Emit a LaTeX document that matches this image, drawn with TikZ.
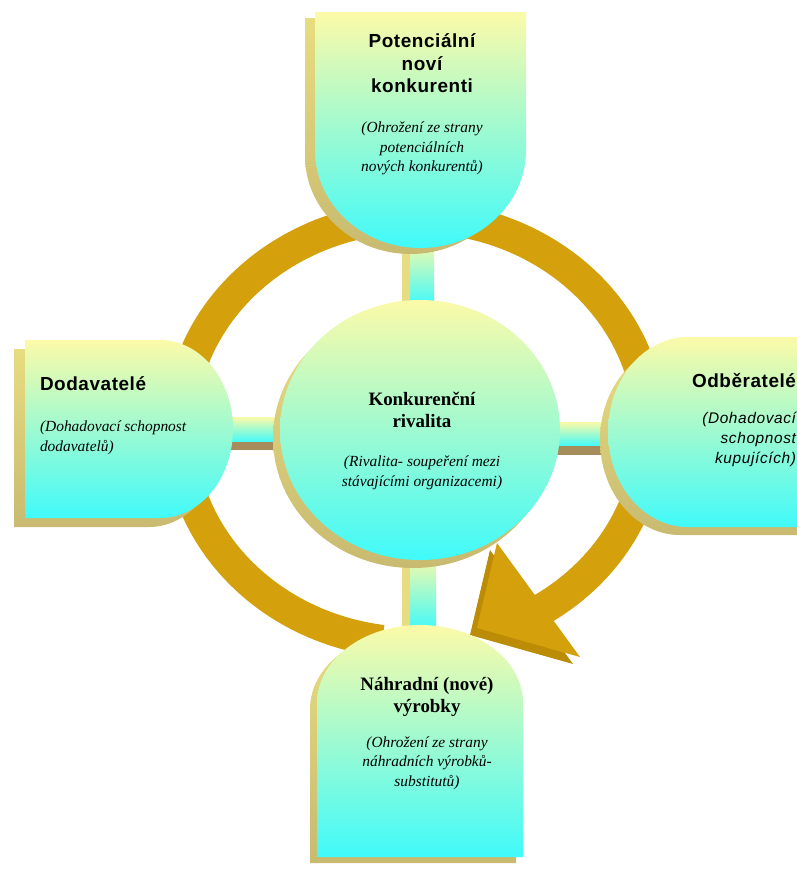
\documentclass[tikz,border=0pt]{standalone}
\usepackage{fontspec}
\setmainfont{Liberation Serif}
\newfontfamily\headsans[LetterSpace=3]{Liberation Sans}
\newfontfamily\notesans[LetterSpace=4]{Liberation Sans}
\usetikzlibrary{shapes.geometric,positioning,calc,backgrounds}
\definecolor{faceyellow}{RGB}{252,250,168}
\definecolor{facecyan}{RGB}{64,250,250}
\definecolor{sidelight}{RGB}{232,220,128}
\definecolor{sidedark}{RGB}{200,186,112}
\definecolor{stubbrown}{RGB}{165,140,90}
\definecolor{ringgold}{RGB}{212,160,12}
\definecolor{ringdark}{RGB}{188,140,6}
\tikzset{
	face/.style = {top color=faceyellow, bottom color=facecyan},
	side/.style = {top color=sidelight, bottom color=sidedark},
	hub/.style = {ellipse, outer sep=0pt, minimum width=280bp, minimum height=260bp},
	ring/.style = {draw=ringgold, line width=32bp},
	head/.style = {inner sep=0pt, outer sep=0pt, align=center, font=\bfseries\fontsize{19}{22.5}\selectfont},
	sanshead/.style = {head, font=\headsans\bfseries\fontsize{19}{22.5}\selectfont},
	note/.style = {inner sep=0pt, outer sep=0pt, align=center, font=\itshape\fontsize{15.5}{19.5}\selectfont},
	sansnote/.style = {note, font=\notesans\itshape\fontsize{15.5}{20}\selectfont}
}

\begin{document}
\begin{tikzpicture}[x=1bp, y=1bp]
	\useasboundingbox (0,0) rectangle (797,-870);
	\clip (0,0) rectangle (797,-870);

	\node[hub, side] (rivalry-shadow) at (413,-438) {};
	\node[hub, face] (rivalry) at (420,-430) {};

	\coordinate (entrants-foot) at (422,-240);
	\coordinate (suppliers-tip) at (230,-433);
	\coordinate (buyers-tip) at (607,-438);
	\coordinate (substitutes-head) at (422,-630);

	\begin{scope}[on background layer]
		\draw[ring] (415,-430) ++(262:235 and 213) arc[start angle=262, end angle=-60, x radius=235, y radius=213];
		\fill[ringdark] (490,-550) -- (470,-635) -- (573,-664) -- cycle;
		\fill[ringgold] (497,-543) -- (477,-628) -- (580,-657) -- cycle;

		\fill[sidelight] ($(entrants-foot)+(-20,0)$) rectangle ($(rivalry.north)+(-10,-5)$);
		\path[face] ($(entrants-foot)+(-12,0)$) rectangle ($(rivalry.north)+(14,-5)$);
		\fill[sidelight] ($(rivalry.south)+(-18,5)$) rectangle ($(substitutes-head)+(-12,0)$);
		\path[face] ($(rivalry.south)+(-10,5)$) rectangle ($(substitutes-head)+(14,0)$);
		\path[face] ($(suppliers-tip)+(0,16)$) rectangle ($(rivalry-shadow.west)+(8,-4)$);
		\fill[stubbrown] ($(suppliers-tip)+(0,-9)$) rectangle ($(rivalry-shadow.west)+(8,-12)$);
		\path[face] ($(rivalry.east)+(-5,8)$) rectangle ($(buyers-tip)+(0,-8)$);
		\fill[stubbrown] ($(rivalry.east)+(-5,-16)$) rectangle ($(buyers-tip)+(0,-17)$);
	\end{scope}

	\path[side] (305,-18) -- (516,-18) -- (516,-156) arc[start angle=0, end angle=-180, x radius=105.5, y radius=98] -- cycle;
	\path[face] (315,-12) -- (526,-12) -- (526,-150) arc[start angle=0, end angle=-180, x radius=105.5, y radius=98] -- cycle;

	\path[side] (14,-349) -- (149,-349) arc[start angle=90, end angle=-90, x radius=73, y radius=89] -- (14,-527) -- cycle;
	\path[face] (25,-340) -- (160,-340) arc[start angle=90, end angle=-90, x radius=73, y radius=89] -- (25,-518) -- cycle;

	\path[side] (810,-345) -- (680,-345) arc[start angle=90, end angle=270, x radius=80, y radius=95] -- (810,-535) -- cycle;
	\path[face] (810,-337) -- (688,-337) arc[start angle=90, end angle=270, x radius=80, y radius=95] -- (810,-527) -- cycle;

	\path[side] (310,-863) -- (310,-709) arc[start angle=180, end angle=0, x radius=103, y radius=78] -- (516,-863) -- cycle;
	\path[face] (317,-857) -- (317,-703) arc[start angle=180, end angle=0, x radius=103, y radius=78] -- (523,-857) -- cycle;

	\node[sanshead, anchor=north] (entrants) at (422,-34) {Potenciální\\noví\\konkurenti};
	\node[note, below=29bp of entrants] (entrants-note) {(Ohrožení ze strany\\potenciálních\\nových konkurentů)};

	\node[sanshead, anchor=north west] (suppliers) at (40,-377) {Dodavatelé};
	\node[note, align=left, below=30bp of suppliers.south west, anchor=north west] (suppliers-note) {(Dohadovací schopnost\\dodavatelů)};

	\node[sanshead, anchor=north east] (buyers) at (796,-373) {Odběratelé};
	\node[sansnote, align=right, below=25bp of buyers.south east, anchor=north east] (buyers-note) {(Dohadovací\\schopnost\\kupujících)};

	\node[head, anchor=north] (rivalry-head) at (422,-392) {Konkurenční\\rivalita};
	\node[note, below=28bp of rivalry-head] (rivalry-note) {(Rivalita- soupeření mezi\\stávajícími organizacemi)};

	\node[head, anchor=north] (substitutes) at (427,-677) {Náhradní (nové)\\výrobky};
	\node[note, below=20bp of substitutes] (substitutes-note) {(Ohrožení ze strany\\náhradních výrobků-\\substitutů)};
\end{tikzpicture}
\end{document}
